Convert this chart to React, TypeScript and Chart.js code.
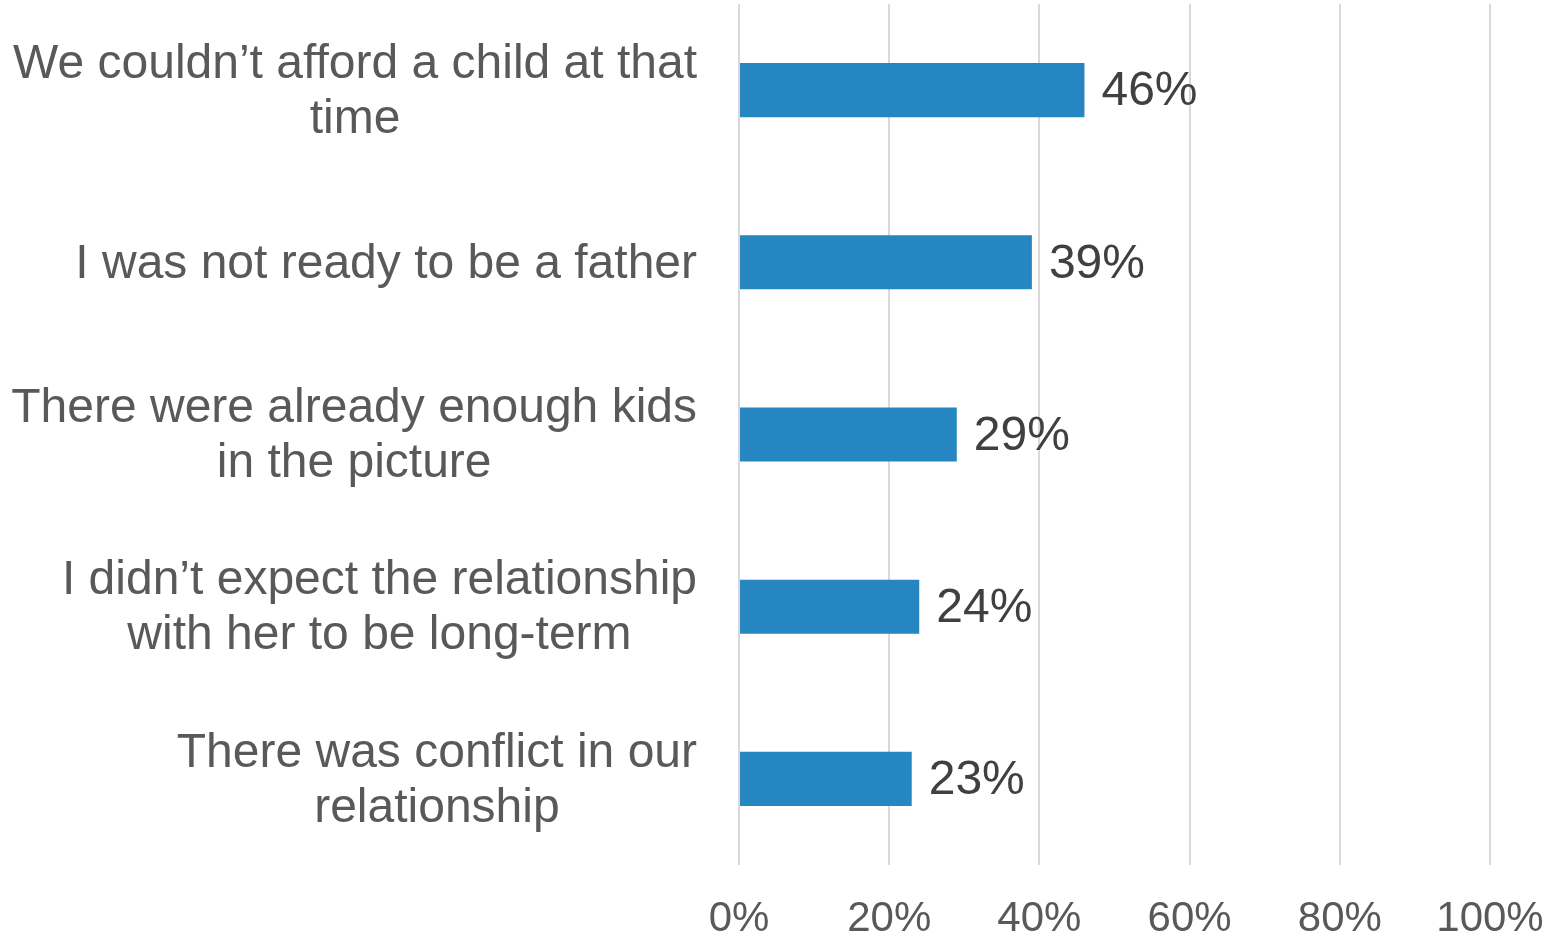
import React, { useEffect, useRef } from "react";
import { Chart, registerables } from "chart.js";

Chart.register(...registerables);

const categories: string[][] = [
  ["We couldn’t afford a child at that", "time"],
  ["I was not ready to be a father"],
  ["There were already enough kids", "in the picture"],
  ["I didn’t expect the relationship", "with her to be long-term"],
  ["There was conflict in our", "relationship"],
];
const values: number[] = [46, 39, 29, 24, 23];
const xTicks: number[] = [0, 20, 40, 60, 80, 100];

const FONT = "'Liberation Sans', Arial, sans-serif";

const labelPlugin = {
  id: "customLabels",
  afterDatasetsDraw(chart: any) {
    const ctx = chart.ctx;
    const yScale = chart.scales.y;
    const xScale = chart.scales.x;
    ctx.save();
    // category labels
    ctx.font = `48px ${FONT}`;
    ctx.fillStyle = "#595959";
    ctx.textBaseline = "middle";
    ctx.textAlign = "center";
    const rightEdge = chart.chartArea.left - 42;
    const lineH = 55;
    categories.forEach((lines, i) => {
      const yc = yScale.getPixelForValue(i) + 2;
      const w = Math.max(...lines.map((l) => ctx.measureText(l).width));
      const cx = rightEdge - w / 2;
      lines.forEach((l, k) => {
        ctx.fillText(l, cx, yc + (k - (lines.length - 1) / 2) * lineH);
      });
    });
    // value labels
    ctx.fillStyle = "#404040";
    ctx.textAlign = "left";
    values.forEach((v, i) => {
      const x = xScale.getPixelForValue(v) + 17;
      const y = yScale.getPixelForValue(i) + 2;
      ctx.fillText(v + "%", x, y);
    });
    ctx.restore();
  },
};

export default function App() {
  const ref = useRef<HTMLCanvasElement | null>(null);
  useEffect(() => {
    document.body.style.margin = "0";
    const canvas = ref.current!;
    const chart = new Chart(canvas, {
      type: "bar",
      data: {
        labels: categories.map((c) => c.join(" ")),
        datasets: [
          {
            data: values,
            backgroundColor: "#2686C1",
            borderWidth: 0,
            categoryPercentage: 1,
            barPercentage: 0.314,
          },
        ],
      },
      options: {
        indexAxis: "y",
        animation: false,
        responsive: false,
        maintainAspectRatio: false,
        layout: { padding: { left: 739, right: 65, top: 4, bottom: -6 } },
        plugins: {
          legend: { display: false },
          tooltip: { enabled: false },
        },
        scales: {
          x: {
            min: 0,
            max: 100,
            afterBuildTicks: (scale: any) => {
              scale.ticks = xTicks.map((v) => ({ value: v }));
            },
            ticks: {
              callback: (v: any) => v + "%",
              color: "#595959",
              font: { family: FONT, size: 42, lineHeight: 1 },
              padding: 0,
            },
            grid: {
              color: "#d9d9d9",
              lineWidth: 2,
              drawTicks: true,
              tickLength: 33,
              tickColor: "rgba(0,0,0,0)",
            },
            border: { display: false },
          },
          y: {
            display: false,
          },
        },
      },
      plugins: [labelPlugin],
    });
    return () => chart.destroy();
  }, []);
  return <canvas ref={ref} width={1555} height={934} style={{ display: "block" }} />;
}
